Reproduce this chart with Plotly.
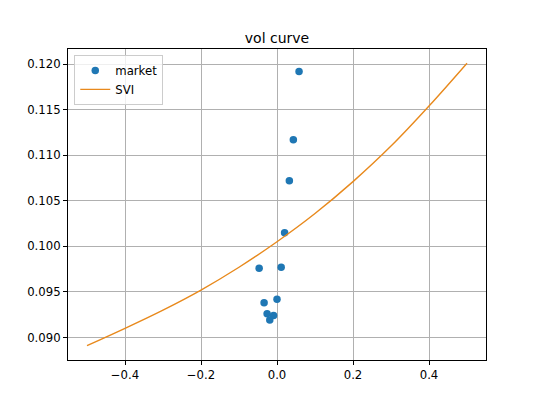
import plotly.graph_objects as go

# market quotes (log-moneyness, implied vol)
market_k = [0.058, 0.043, 0.0325, 0.020, -0.047, 0.011, -0.034, 0.0, -0.026, -0.009, -0.019]
market_vol = [0.1192, 0.1117, 0.1072, 0.1015, 0.0976, 0.0977, 0.0938, 0.0942, 0.0926, 0.0924, 0.0919]

# fitted SVI curve
svi_k = [-0.5, -0.4, -0.3, -0.2, -0.1, 0.0, 0.1, 0.2, 0.3, 0.4, 0.5]
svi_vol = [0.0891, 0.0910, 0.0930, 0.0952, 0.0977, 0.1005, 0.1036, 0.1071, 0.1110, 0.1154, 0.1201]

fig = go.Figure()
fig.add_trace(go.Scatter(
    x=market_k, y=market_vol, mode="markers", name="market",
    marker=dict(color="#1f77b4", size=7.5),
))
fig.add_trace(go.Scatter(
    x=svi_k, y=svi_vol, mode="lines", name="SVI",
    line=dict(color="#e8891c", width=1.4, shape="spline"),
))

axis_style = dict(
    showline=True, linecolor="black", linewidth=1, mirror=True,
    showgrid=True, gridcolor="#b0b0b0", gridwidth=0.8,
    ticks="outside", ticklen=4, tickcolor="black", tickwidth=0.8,
    zeroline=False, tickfont=dict(size=11.7, color="black"),
)

# the page body adds an 8px offset, so margins are shifted to compensate
fig.update_layout(
    width=540, height=405,
    margin=dict(l=59.5, r=62, t=41, b=53),
    paper_bgcolor="white", plot_bgcolor="white",
    font=dict(family="DejaVu Sans", color="black"),
    title=dict(text="vol curve", xref="paper", x=0.5, xanchor="center",
               y=0.926, yanchor="middle", font=dict(size=14)),
    xaxis=dict(range=[-0.55, 0.55], dtick=0.2, tick0=0, tickformat=".1f", **axis_style),
    yaxis=dict(range=[0.08752, 0.12166], dtick=0.005, tick0=0, tickformat=".3f", **axis_style),
    legend=dict(x=0.015, y=0.981, xanchor="left", yanchor="top",
                bgcolor="rgba(255,255,255,0.8)", bordercolor="#cccccc", borderwidth=1,
                font=dict(size=11.7)),
    showlegend=True,
)

fig.write_html("out.html")
